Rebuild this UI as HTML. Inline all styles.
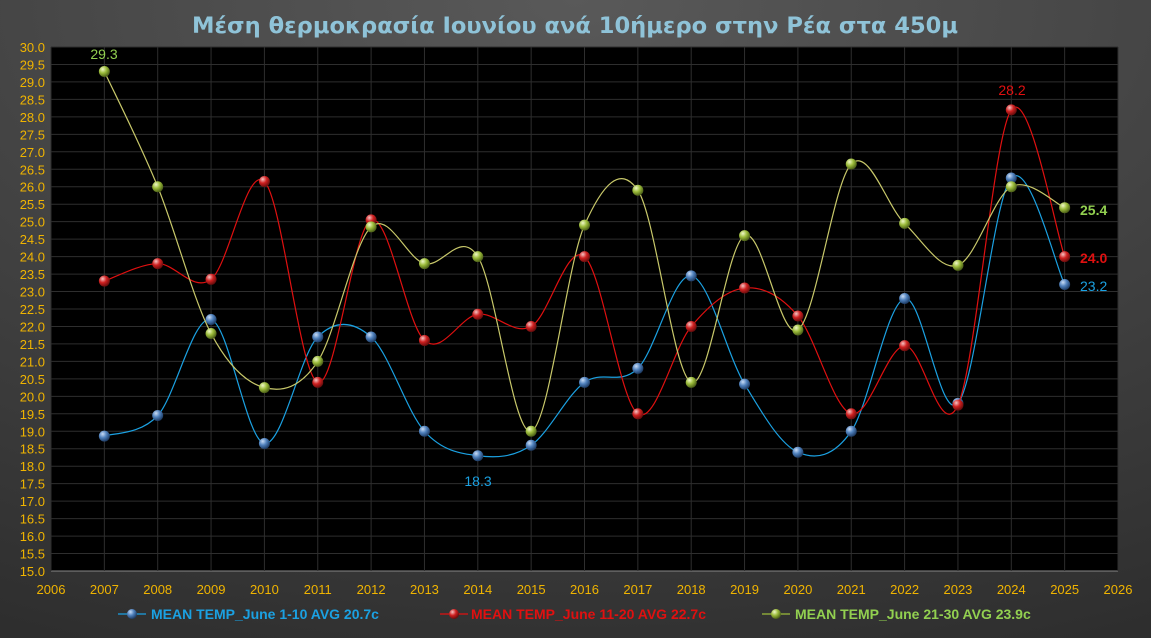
<!DOCTYPE html>
<html><head><meta charset="utf-8"><style>
html,body{margin:0;padding:0;width:1151px;height:638px;overflow:hidden;background:#3a3a3a}
svg{display:block}
</style></head><body>
<svg id="c" width="1151" height="638" xmlns="http://www.w3.org/2000/svg">
<defs>
<radialGradient id="bg" cx="0.5" cy="0" r="1.1"><stop offset="0" stop-color="#595959"/><stop offset="1" stop-color="#2e2e2e"/></radialGradient>
<radialGradient id="gb" cx="0.35" cy="0.3" r="0.7"><stop offset="0" stop-color="#c9dcf5"/><stop offset="0.5" stop-color="#4f81bd"/><stop offset="1" stop-color="#1f3d66"/></radialGradient>
<radialGradient id="gr" cx="0.35" cy="0.3" r="0.7"><stop offset="0" stop-color="#f5c4c4"/><stop offset="0.5" stop-color="#d02020"/><stop offset="1" stop-color="#6a0d0d"/></radialGradient>
<radialGradient id="gg" cx="0.35" cy="0.3" r="0.7"><stop offset="0" stop-color="#f0f8c8"/><stop offset="0.5" stop-color="#9bbb3a"/><stop offset="1" stop-color="#4d6118"/></radialGradient>
</defs>
<rect width="1151" height="638" fill="url(#bg)"/>
<text x="575" y="33" text-anchor="middle" font-family="DejaVu Sans, sans-serif" font-weight="bold" font-size="22" fill="#8fc3d8" textLength="766" lengthAdjust="spacingAndGlyphs">Μέση θερμοκρασία Ιουνίου ανά 10ήμερο στην Ρέα στα 450μ</text>
<rect x="51" y="47" width="1067" height="524" fill="#000"/>
<g id="grid"></g>
<g id="series"></g>
<g font-family="Liberation Sans, sans-serif">
<line x1="118" y1="614" x2="146" y2="614" stroke="#1ba1e2" stroke-width="1.2"/><circle cx="132" cy="614" r="5" fill="url(#gb)"/>
<text x="151" y="619" font-size="14" font-weight="bold" fill="#1ba1e2">MEAN TEMP_June 1-10 AVG 20.7c</text>
<line x1="440" y1="614" x2="468" y2="614" stroke="#e01010" stroke-width="1.2"/><circle cx="454" cy="614" r="5" fill="url(#gr)"/>
<text x="471" y="619" font-size="14" font-weight="bold" fill="#e01010">MEAN TEMP_June 11-20 AVG 22.7c</text>
<line x1="762" y1="614" x2="790" y2="614" stroke="#9bbb3a" stroke-width="1.2"/><circle cx="776" cy="614" r="5" fill="url(#gg)"/>
<text x="795" y="619" font-size="14" font-weight="bold" fill="#92d050">MEAN TEMP_June 21-30 AVG 23.9c</text>
<text x="104" y="59" text-anchor="middle" font-size="14" fill="#92d050">29.3</text>
<text x="1012" y="95" text-anchor="middle" font-size="14" fill="#e01010">28.2</text>
<text x="478" y="486" text-anchor="middle" font-size="14" fill="#1ba1e2">18.3</text>
<text x="1080" y="215" font-size="14" font-weight="bold" fill="#92d050">25.4</text>
<text x="1080" y="263" font-size="14" font-weight="bold" fill="#e01010">24.0</text>
<text x="1080" y="291" font-size="14" fill="#1ba1e2">23.2</text>
</g>
</svg>
<script>
var NS="http://www.w3.org/2000/svg";
function X(y){return 51+(y-2006)*1067/20;}
function Y(v){return 47+(30-v)*524/15;}
function el(p,t,a){var e=document.createElementNS(NS,t);for(var k in a)e.setAttribute(k,a[k]);p.appendChild(e);return e;}
var g=document.getElementById('grid');
for(var v=15;v<=30.001;v+=0.5){var y=Y(v);el(g,'line',{x1:51,x2:1118,y1:y,y2:y,stroke:v<15.01?'#888':'#2e2e2e','stroke-width':1});
var t=el(g,'text',{x:45,y:y+5,'text-anchor':'end','font-family':'Liberation Sans, sans-serif','font-size':13,fill:'#f0b400'});t.textContent=v.toFixed(1);}
for(var yr=2006;yr<=2026;yr++){var x=X(yr);el(g,'line',{x1:x,x2:x,y1:47,y2:571,stroke:'#2e2e2e','stroke-width':1});
var t=el(g,'text',{x:x,y:594,'text-anchor':'middle','font-family':'Liberation Sans, sans-serif','font-size':13,fill:'#f0b400'});t.textContent=yr;}
var B=[18.86,19.45,22.2,18.65,21.7,21.7,19.0,18.3,18.6,20.4,20.8,23.45,20.35,18.4,19.0,22.8,19.8,26.25,23.2];
var R=[23.3,23.8,23.35,26.15,20.4,25.05,21.6,22.35,22.0,24.0,19.5,22.0,23.1,22.3,19.5,21.45,19.75,28.2,24.0];
var G=[29.3,26.0,21.8,20.25,21.0,24.85,23.8,24.0,19.0,24.9,25.9,20.4,24.6,21.9,26.65,24.95,23.75,26.0,25.4];
var s=document.getElementById('series');
function draw(d,col,grad){var p=d.map(function(v,i){return [X(2007+i),Y(v)];});
var path='M'+p[0][0]+','+p[0][1];
for(var i=0;i<p.length-1;i++){var p0=p[i-1]||p[i],p1=p[i],p2=p[i+1],p3=p[i+2]||p2;
var c1=[p1[0]+(p2[0]-p0[0])/6,p1[1]+(p2[1]-p0[1])/6],c2=[p2[0]-(p3[0]-p1[0])/6,p2[1]-(p3[1]-p1[1])/6];
path+=' C'+c1+' '+c2+' '+p2;}
el(s,'path',{d:path,fill:'none',stroke:col,'stroke-width':1.2});
p.forEach(function(q){el(s,'circle',{cx:q[0],cy:q[1],r:5.5,fill:'url(#'+grad+')'});});}
draw(B,'#1ba1e2','gb');draw(R,'#e01010','gr');draw(G,'#c8c86a','gg');
</script>
</body></html>
